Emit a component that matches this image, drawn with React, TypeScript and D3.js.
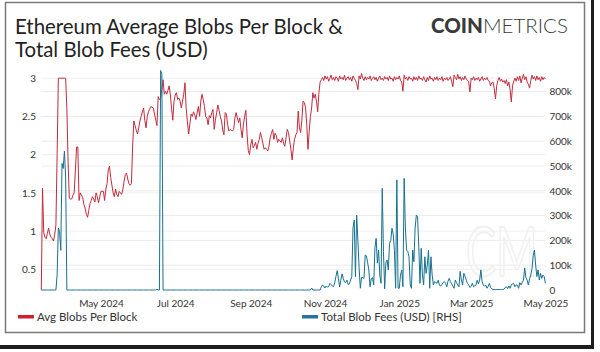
import * as d3 from 'd3';
import React, { useRef, useEffect } from 'react';

// daily values from 2024-03-13 (Dencun) to 2025-05-02
const startDay = Date.UTC(2024, 2, 13);

const avgBlobs = [
  0.23, 1.56, 0.98, 0.92, 0.9, 0.97, 1.04, 0.96, 0.92, 0.9, 0.87, 0.95, 1.08, 2.0, 3.0, 3.0, 3.0, 3.0, 3.0, 3.0,
  3.0, 2.6, 1.9, 1.43, 1.42, 1.42, 1.47, 1.5, 1.8, 2.1, 2.1, 1.4, 1.5, 1.47, 1.44, 1.35, 1.3, 1.22, 1.18, 1.27,
  1.36, 1.4, 1.45, 1.42, 1.38, 1.5, 1.45, 1.37, 1.45, 1.52, 1.52, 1.52, 1.4, 1.55, 1.62, 1.8, 1.85, 1.7, 1.6, 1.5,
  1.45, 1.55, 1.48, 1.45, 1.52, 1.5, 1.48, 1.55, 1.65, 1.74, 1.76, 1.68, 1.62, 1.6, 1.62, 2.1, 2.44, 2.38, 2.32, 2.27,
  2.35, 2.44, 2.5, 2.56, 2.61, 2.45, 2.35, 2.5, 2.56, 2.6, 2.63, 2.62, 2.61, 2.53, 2.45, 2.38, 2.76, 2.72, 2.74, 2.85,
  2.98, 2.79, 2.83, 2.79, 2.84, 2.9, 2.78, 2.6, 2.45, 2.7, 2.78, 2.81, 2.72, 2.74, 2.7, 2.61, 2.7, 2.79, 2.94, 2.6,
  2.43, 2.27, 2.4, 2.53, 2.5, 2.56, 2.52, 2.46, 2.55, 2.63, 2.5, 2.7, 2.79, 2.72, 2.63, 2.5, 2.48, 2.39, 2.51, 2.48,
  2.55, 2.59, 2.33, 2.45, 2.55, 2.65, 2.58, 2.5, 2.44, 2.32, 2.26, 2.55, 2.53, 2.4, 2.31, 2.33, 2.32, 2.31, 2.33, 2.48,
  2.55, 2.48, 2.42, 2.48, 2.33, 2.22, 2.4, 2.5, 2.58, 2.26, 2.05, 2.0, 2.13, 2.2, 2.09, 2.12, 2.16, 2.07, 2.15, 2.2,
  2.29, 2.22, 2.15, 2.07, 2.09, 2.07, 2.05, 2.11, 2.22, 2.28, 2.33, 2.2, 2.28, 2.25, 2.16, 2.2, 2.18, 2.16, 2.22, 2.15,
  2.11, 2.22, 2.33, 2.29, 2.18, 2.07, 1.93, 2.09, 2.2, 2.26, 2.29, 2.57, 2.35, 2.29, 2.45, 2.7, 2.68, 2.62, 2.4, 2.07,
  2.3, 2.5, 2.61, 2.81, 2.74, 2.79, 2.7, 2.56, 2.81, 2.95, 2.98, 3.01, 2.97, 3.03, 2.99, 3.02, 2.96, 3.0, 3.04, 2.98,
  3.01, 2.97, 3.02, 3.0, 2.96, 3.03, 2.99, 3.01, 2.98, 3.04, 2.97, 3.0, 3.02, 2.98, 3.01, 2.96, 3.03, 3.0, 2.97, 2.93,
  2.85, 3.03, 2.99, 3.06, 3.0, 2.97, 3.02, 2.98, 3.01, 2.99, 3.03, 2.97, 3.0, 3.02, 2.98, 3.01, 2.96, 3.0, 3.03, 2.98,
  3.0, 2.97, 3.02, 2.99, 3.01, 2.97, 3.03, 2.99, 3.0, 2.96, 3.02, 2.98, 3.01, 2.99, 3.03, 2.97, 2.95, 2.83, 3.04, 2.99,
  3.01, 2.97, 3.02, 2.99, 3.0, 2.96, 3.02, 2.98, 3.01, 2.97, 3.03, 2.99, 3.0, 2.97, 3.02, 2.98, 2.95, 3.01, 2.97, 3.03,
  2.99, 3.0, 2.96, 3.01, 2.98, 3.02, 2.97, 3.0, 2.98, 3.02, 2.96, 3.0, 2.98, 3.01, 2.97, 2.99, 3.02, 2.96, 2.89, 3.04,
  3.01, 2.98, 3.05, 2.99, 3.02, 2.97, 3.01, 2.98, 3.03, 2.99, 2.97, 2.95, 2.82, 3.0, 2.98, 3.02, 2.97, 3.0, 2.98, 3.01,
  2.96, 2.99, 3.02, 2.97, 3.0, 2.98, 3.01, 2.97, 2.96, 2.9, 2.94, 2.95, 2.86, 2.73, 2.9, 2.97, 3.01, 2.96, 2.99, 2.95,
  2.97, 2.93, 2.98, 2.9, 2.95, 2.85, 2.69, 2.9, 2.96, 3.0, 2.96, 3.02, 2.97, 3.03, 2.94, 3.0, 3.05, 2.98, 3.02, 2.95,
  2.92, 2.87, 2.97, 3.04, 2.99, 3.02, 2.97, 3.03, 2.98, 3.01, 2.96, 3.02, 2.98, 3.01, 2.99,
];

// total blob fees, thousands of USD
const blobFeesK = [
  0, 0, 0, 0, 0, 0, 0, 0, 0, 0, 0, 0, 0, 60, 250, 235, 160, 510, 490, 560,
  455, 0, 0, 0, 0, 0, 0, 0, 0, 0, 0, 0, 0, 0, 0, 0, 0, 0, 0, 0,
  0, 0, 0, 0, 0, 0, 0, 0, 0, 0, 0, 0, 0, 0, 0, 0, 0, 0, 0, 0,
  0, 0, 0, 0, 0, 0, 0, 0, 0, 0, 0, 0, 0, 0, 0, 0, 0, 0, 0, 0,
  0, 0, 0, 0, 0, 0, 0, 0, 0, 0, 0, 0, 0, 0, 0, 3, 0, 0, 885, 870,
  0, 0, 0, 0, 0, 0, 0, 0, 0, 0, 0, 0, 0, 0, 0, 0, 0, 0, 0, 0,
  0, 0, 0, 0, 0, 0, 0, 0, 0, 0, 0, 0, 0, 0, 0, 0, 0, 0, 0, 0,
  0, 0, 0, 0, 0, 0, 0, 0, 0, 0, 0, 0, 0, 0, 0, 0, 0, 0, 0, 0,
  0, 0, 0, 0, 0, 0, 0, 0, 0, 0, 0, 0, 0, 0, 0, 0, 0, 0, 0, 0,
  0, 0, 0, 0, 0, 0, 0, 0, 0, 0, 0, 0, 0, 0, 0, 0, 0, 0, 0, 0,
  0, 0, 0, 0, 0, 0, 0, 0, 0, 0, 0, 0, 0, 0, 0, 0, 0, 0, 0, 0,
  0, 0, 8, 0, 0, 0, 0, 0, 0, 0, 13, 20, 16, 8, 16, 12, 13, 27, 22, 16,
  13, 30, 55, 78, 47, 12, 40, 65, 47, 32, 30, 40, 22, 25, 40, 54, 250, 282, 54, 302,
  200, 90, 7, 50, 50, 47, 141, 138, 110, 81, 13, 45, 50, 20, 170, 208, 108, 161, 60, 27,
  410, 155, 5, 110, 121, 81, 188, 200, 249, 225, 160, 7, 444, 7, 7, 60, 81, 13, 450, 250,
  161, 155, 134, 20, 7, 161, 114, 250, 302, 296, 175, 27, 168, 60, 20, 134, 67, 100, 161, 7,
  134, 60, 20, 34, 30, 27, 40, 20, 15, 22, 30, 34, 27, 13, 35, 47, 34, 25, 15, 7,
  40, 30, 20, 13, 75, 40, 20, 67, 55, 40, 27, 20, 10, 15, 27, 13, 17, 20, 40, 25,
  40, 81, 34, 20, 15, 20, 7, 15, 27, 10, 5, 2, 2, 2, 2, 2, 2, 2, 2, 2,
  3, 10, 13, 5, 16, 7, 20, 25, 27, 13, 20, 20, 7, 30, 20, 30, 40, 89, 50, 40,
  20, 45, 60, 87, 140, 161, 100, 54, 81, 40, 67, 47, 60, 54, 27, 7,
];

const leftTicks = [0.5, 1, 1.5, 2, 2.5, 3];
const rightTicks = [0, 100000, 200000, 300000, 400000, 500000, 600000, 700000, 800000];
const monthTicks = [
  Date.UTC(2024, 4, 1), Date.UTC(2024, 6, 1), Date.UTC(2024, 8, 1), Date.UTC(2024, 10, 1),
  Date.UTC(2025, 0, 1), Date.UTC(2025, 2, 1), Date.UTC(2025, 4, 1),
];

const plotLeft = 41.3;
const plotRight = 545.4;
const plotTop = 70;
const plotBottom = 290;

const font = 'Lato, "Noto Sans", sans-serif';

export default function App() {
  const svgRef = useRef(null);

  const days = avgBlobs.map((_, i) => new Date(startDay + i * 86400000));

  const xScale = d3.scaleUtc()
    .domain([days[0], days[days.length - 1]])
    .range([plotLeft, plotRight]);

  const yLeft = d3.scaleLinear().domain([0.5, 3]).range([269.3, 78.2]);
  const yRight = d3.scaleLinear().domain([0, 800000]).range([plotBottom, 91.6]);

  const blobLine = d3.line()
    .x((d, i) => xScale(days[i]))
    .y((d) => yLeft(d));

  const feeLine = d3.line()
    .x((d, i) => xScale(days[i]))
    .y((d) => yRight(d * 1000));

  useEffect(() => {
    const svg = d3.select(svgRef.current);

    const xAxis = d3.axisBottom(xScale)
      .tickValues(monthTicks.map((t) => new Date(t)))
      .tickFormat(d3.utcFormat('%b %Y'))
      .tickSize(0)
      .tickPadding(6);

    svg.select('.x-axis')
      .attr('transform', `translate(0, ${plotBottom + 4})`)
      .call(xAxis);

    const leftAxis = d3.axisLeft(yLeft)
      .tickValues(leftTicks)
      .tickFormat((v) => String(v))
      .tickSize(0)
      .tickPadding(5);
    svg.select('.y-left')
      .attr('transform', `translate(${plotLeft - 0.3}, 0)`)
      .call(leftAxis);

    const rightAxis = d3.axisRight(yRight)
      .tickValues(rightTicks)
      .tickFormat((v) => (v === 0 ? '0' : `${v / 1000}k`))
      .tickSize(0)
      .tickPadding(5);
    svg.select('.y-right')
      .attr('transform', `translate(${plotRight - 1}, 0)`)
      .call(rightAxis);

    svg.selectAll('.x-axis, .y-left, .y-right')
      .call((g) => g.select('.domain').remove())
      .selectAll('text')
      .attr('fill', '#333')
      .style('font-family', font)
      .style('font-size', '10px');
  }, []);

  return (
    <svg
      ref={svgRef}
      width={600}
      height={352}
      style={{ position: 'absolute', left: 0, top: 0, background: '#fff' }}
    >
      <rect x={5.5} y={2.5} width={579} height={330} fill="#fff" stroke="#7a7a7a" strokeWidth={1.5} />
      <rect x={591} y={0} width={3} height={349} fill="#1e1e1e" />
      <rect x={0} y={345} width={594} height={4} fill="#1e1e1e" />

      <text x={15} y={34} fontFamily={font} fontSize={20.4} fill="#222">
        Ethereum Average Blobs Per Block &amp;
      </text>
      <text x={15} y={57} fontFamily={font} fontSize={20.4} fill="#222">
        Total Blob Fees (USD)
      </text>

      <text x={431} y={33} fontFamily={font} fontSize={20.5} fill="#3a3a3a">
        <tspan fontWeight={900}>COIN</tspan>
        <tspan fontWeight={300}>METRICS</tspan>
      </text>

      {leftTicks.map((t) => (
        <line key={'gl' + t} x1={plotLeft} x2={plotRight} y1={yLeft(t)} y2={yLeft(t)} stroke="#f0f0f0" />
      ))}
      {rightTicks.slice(1).map((t) => (
        <line key={'gr' + t} x1={plotLeft} x2={plotRight} y1={yRight(t)} y2={yRight(t)} stroke="#ececec" />
      ))}

      <text
        transform="translate(466, 276) scale(0.7, 1.05)"
        fontFamily={font}
        fontSize={64}
        fill="none"
        stroke="#f0f0f0"
        strokeWidth={2}
      >
        CM
      </text>

      <path d={blobLine(avgBlobs)} fill="none" stroke="#c42a3c" strokeWidth={1} />
      <path d={feeLine(blobFeesK)} fill="none" stroke="#17718f" strokeWidth={1} />

      <g className="x-axis" />
      <g className="y-left" />
      <g className="y-right" />

      <rect x={18} y={315} width={16} height={3.5} fill="#d21f2d" />
      <text x={37} y={321} fontFamily={font} fontSize={11.5} fill="#333">
        Avg Blobs Per Block
      </text>
      <rect x={302} y={315} width={16} height={3.5} fill="#2273a8" />
      <text x={321} y={321} fontFamily={font} fontSize={11.5} fill="#333">
        Total Blob Fees (USD) [RHS]
      </text>
    </svg>
  );
}
